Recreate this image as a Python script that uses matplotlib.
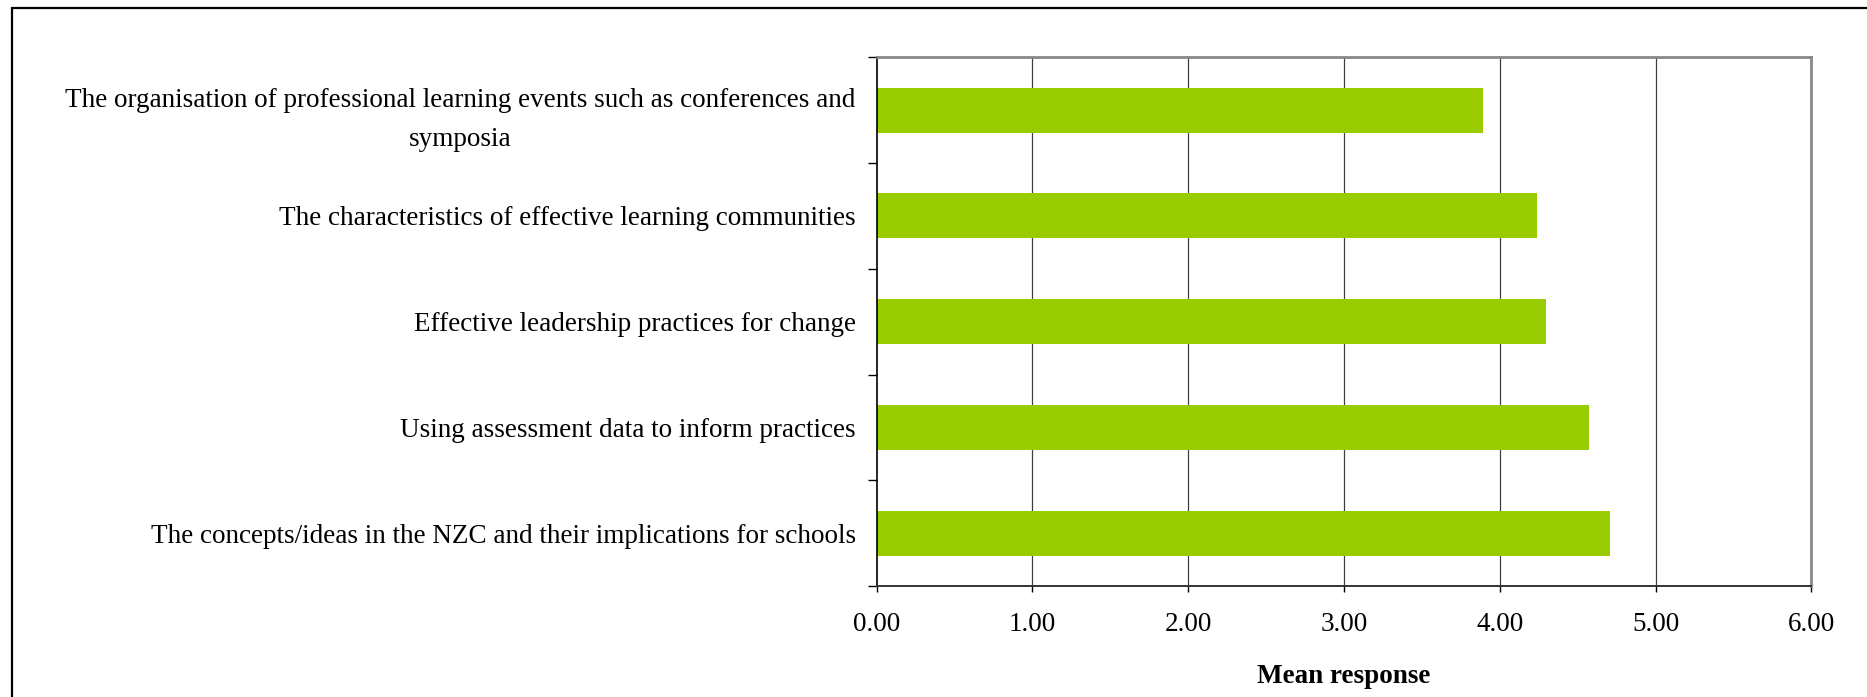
import matplotlib
matplotlib.use("Agg")
import matplotlib.pyplot as plt
from matplotlib.patches import Rectangle

# Survey items (bottom to top) and their mean responses
categories = [
    "The concepts/ideas in the NZC and their implications for schools",
    "Using assessment data to inform practices",
    "Effective leadership practices for change",
    "The characteristics of effective learning communities",
    "The organisation of professional learning events such as conferences and\nsymposia",
]
mean_values = [4.71, 4.57, 4.30, 4.24, 3.89]
x_ticks = [0, 1, 2, 3, 4, 5, 6]
x_tick_labels = ["0.00", "1.00", "2.00", "3.00", "4.00", "5.00", "6.00"]

W, H = 1867, 697
DPI = 100
plt.rcParams["font.family"] = ["Liberation Serif", "DejaVu Serif"]

fig = plt.figure(figsize=(W / DPI, H / DPI), dpi=DPI)
fig.patch.set_facecolor("white")

# Outer chart frame
fig.patches.append(Rectangle((12 / W, -0.05), 1.2, 1 - 7.7 / H + 0.05,
                             transform=fig.transFigure, fill=False,
                             edgecolor="black", linewidth=1.6, zorder=0))

left, right = 876.7 / W, 1811.3 / W
top, bottom = 1 - 57.3 / H, 1 - 586 / H
ax = fig.add_axes([left, bottom, right - left, top - bottom])

ypos = list(range(len(categories)))
ax.barh(ypos, mean_values, height=0.425, color="#99CC00", zorder=2)

ax.set_xlim(0, 6)
ax.set_ylim(-0.5, len(categories) - 0.5)

ax.set_xticks(x_ticks)
ax.set_xticklabels(x_tick_labels, fontsize=19.5)
ax.set_yticks(ypos)
ax.set_yticklabels(categories, fontsize=19.5, linespacing=1.72,
                   multialignment="center")

# Category ticks sit on the boundaries between bars
ax.set_yticks([i - 0.5 for i in range(len(categories) + 1)], minor=True)
ax.tick_params(axis="y", which="major", length=0, pad=15)
ax.tick_params(axis="y", which="minor", length=6.5, width=1.0,
               direction="out", color="black")
ax.tick_params(axis="x", which="major", length=4.5, width=1.0,
               direction="out", color="black", pad=14.5)

for xv in x_ticks[1:-1]:
    ax.axvline(xv, color="#404040", linewidth=0.9, zorder=1)

ax.spines["left"].set_color("black")
ax.spines["left"].set_linewidth(1.2)
ax.spines["bottom"].set_color("#333333")
ax.spines["bottom"].set_linewidth(1.4)
ax.spines["top"].set_color("#888888")
ax.spines["top"].set_linewidth(2.0)
ax.spines["right"].set_color("#888888")
ax.spines["right"].set_linewidth(2.0)

ax.set_xlabel("Mean response", fontsize=19.5, fontweight="bold", labelpad=19)

fig.savefig("out.png", dpi=DPI, facecolor="white")
